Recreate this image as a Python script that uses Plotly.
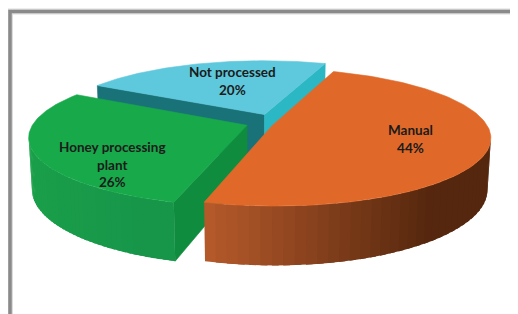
import numpy as np
import plotly.graph_objects as go

# ---- data ----
categories = ["Manual", "Honey processing plant", "Not processed"]
values = [44, 26, 20]
pct_labels = ["44%", "26%", "20%"]
label_lines = ["Manual", "Honey processing<br>plant", "Not processed"]

# ---- styling ----
top_colors = ["#e0692a", "#17a94a", "#5ec8dc"]
wall_light = ["#b85b2b", "#1a9f49", "#2ab8c6"]
wall_dark = ["#55270e", "#17964a", "#176f77"]
cut_hi_colors = ["#c45f2a", "#0f8c3e", "#1a7279"]   # face at CCW edge
cut_lo_colors = ["#c45f2a", "#0f8c3e", "#2bb7c4"]   # face at CW edge
pulls = [0.07, 0.055, 0.15]
pull_dang = [0.0, 0.0, -32.0]      # explode direction offset (deg)
label_r = [0.65, 0.775, 0.6]
label_dang = [0.0, 21.5, -4.0]     # label angle offset from slice middle (deg)

START = 70.0          # degrees, slices go clockwise
ALPHA = np.radians(18)
DIST = 5.5
SCALE = 214.0
CX, CY = 258.0, 124.0
H = 0.25

# page body has an 8px margin: map data coordinates to window pixels
OFF = 8
W, HH = 518, 314

def proj(X, Y, z):
    X = np.asarray(X, float); Y = np.asarray(Y, float); z = np.asarray(z, float)
    d = Y * np.cos(ALPHA) - z * np.sin(ALPHA)
    k = DIST / (DIST + d)
    u = X * k
    v = (Y * np.sin(ALPHA) + z * np.cos(ALPHA)) * k
    return CX + SCALE * u, CY - SCALE * v

CAM = np.array([0.0, -DIST * np.cos(ALPHA), DIST * np.sin(ALPHA)])

def visible(normal, point):
    return np.dot(normal, CAM - point) > 0

def hexmix(c1, c2, t):
    a = np.array([int(c1[i:i+2], 16) for i in (1, 3, 5)], float)
    b = np.array([int(c2[i:i+2], 16) for i in (1, 3, 5)], float)
    c = a + (b - a) * t
    return "#%02x%02x%02x" % tuple(int(round(x)) for x in c)

fig = go.Figure()

def poly(xs, ys, color, lw=0.6):
    xs = list(xs) + [xs[0]]
    ys = list(ys) + [ys[0]]
    fig.add_trace(go.Scatter(x=xs, y=ys, mode="lines", fill="toself",
                             fillcolor=color, line=dict(color=color, width=lw),
                             hoverinfo="skip", showlegend=False))

total = float(sum(values))
spans = [360.0 * v / total for v in values]
slices = []
acc = START
for i, sp in enumerate(spans):
    hi = acc
    lo = acc - sp
    acc = lo
    mid = np.radians((hi + lo) / 2)
    pd = mid + np.radians(pull_dang[i])
    ax, ay = pulls[i] * np.cos(pd), pulls[i] * np.sin(pd)
    slices.append((i, np.radians(hi), np.radians(lo), ax, ay, mid))

order = sorted(slices, key=lambda s: -s[4])
annos = []
for (i, hi, lo, ax, ay, mid) in order:
    # cut faces
    for phi, sign, col in ((hi, 1, cut_hi_colors[i]), (lo, -1, cut_lo_colors[i])):
        n = np.array([-np.sin(phi) * sign, np.cos(phi) * sign, 0.0])
        ex, ey = ax + np.cos(phi), ay + np.sin(phi)
        c = np.array([(ax + ex) / 2, (ay + ey) / 2, -H / 2])
        if visible(n, c):
            X = [ax, ex, ex, ax]; Y = [ay, ey, ey, ay]; Z = [0, 0, -H, -H]
            sx, sy = proj(X, Y, Z)
            poly(sx, sy, col)
    # outer wall strips
    th = np.linspace(lo, hi, 70)
    step = th[1] - th[0]
    vis = []
    for k in range(len(th) - 1):
        tm = (th[k] + th[k + 1]) / 2
        n = np.array([np.cos(tm), np.sin(tm), 0.0])
        p = np.array([ax + np.cos(tm), ay + np.sin(tm), -H / 2])
        if visible(n, p):
            vis.append(k)
    if vis:
        xs_all = [proj(ax + np.cos(th[k]), ay + np.sin(th[k]), 0)[0] for k in vis]
        xmin, xmax = min(xs_all), max(xs_all)
        for k in vis:
            t0 = th[k]
            t1 = th[k + 1] + (0.6 * step if k != vis[-1] else 0)
            tt = np.linspace(t0, t1, 4)
            Xt = ax + np.cos(tt); Yt = ay + np.sin(tt)
            X = list(Xt) + list(Xt[::-1])
            Y = list(Yt) + list(Yt[::-1])
            Z = [0] * 4 + [-H] * 4
            sx, sy = proj(X, Y, Z)
            tpos = (np.mean(sx) - xmin) / max(xmax - xmin, 1)
            tcol = min(1.0, tpos / 0.8)
            poly(sx, sy, hexmix(wall_light[i], wall_dark[i], tcol), lw=0)
    # top face
    th = np.linspace(hi, lo, 120)
    X = [ax] + list(ax + np.cos(th))
    Y = [ay] + list(ay + np.sin(th))
    sx, sy = proj(X, Y, np.zeros(len(X)))
    poly(sx, sy, top_colors[i])
    la = mid + np.radians(label_dang[i])
    lx, ly = proj(ax + label_r[i] * np.cos(la), ay + label_r[i] * np.sin(la), 0)
    txt = "<br>".join("<b>" + s + "</b>" for s in (label_lines[i] + "<br>" + pct_labels[i]).split("<br>"))
    annos.append(dict(x=float(lx), y=float(ly), xref="x", yref="y",
                      text=txt, showarrow=False,
                      font=dict(family="Lato", size=13.5, color="#1b1b1b"),
                      align="center"))

fig.update_layout(annotations=annos)

# frame
fig.add_shape(type="rect", xref="x", yref="y", x0=10, y0=11.5, x1=540, y1=340,
              line=dict(color="#dcdcdc", width=6), layer="below")
fig.add_shape(type="rect", xref="x", yref="y", x0=10, y0=11.5, x1=540, y1=340,
              line=dict(color="#8a8a8a", width=3.5), layer="below")

fig.update_layout(
    width=W - OFF, height=HH - OFF,
    margin=dict(l=0, r=0, t=0, b=0),
    paper_bgcolor="white", plot_bgcolor="white",
    xaxis=dict(range=[OFF, W], visible=False, fixedrange=True),
    yaxis=dict(range=[HH, OFF], visible=False, fixedrange=True),
    showlegend=False,
)
fig.write_html("out.html")
